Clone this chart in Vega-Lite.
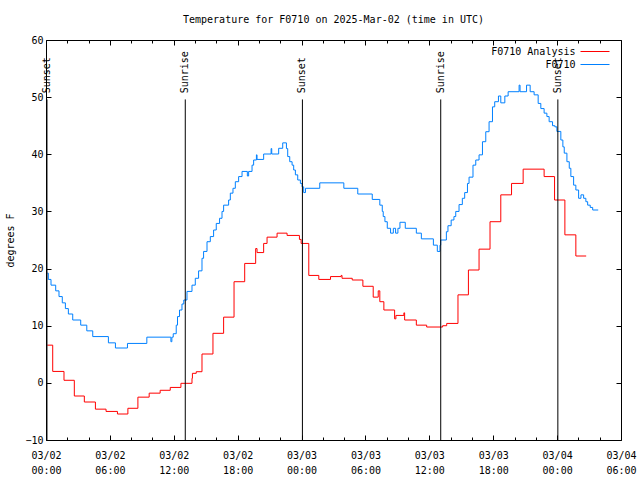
{
  "$schema": "https://vega.github.io/schema/vega-lite/v6.json",
  "width": 575,
  "height": 400,
  "autosize": "none",
  "padding": {"left": 46, "top": 40, "right": 19, "bottom": 40},
  "background": "white",
  "title": {"text": "Temperature for F0710 on 2025-Mar-02 (time in UTC)", "font": "DejaVu Sans Mono", "fontSize": 10, "fontWeight": "normal", "color": "black", "anchor": "middle", "offset": 10},
  "config": {
    "font": "DejaVu Sans Mono",
    "view": {"stroke": "black", "strokeWidth": 1},
    "axis": {"labelFont": "DejaVu Sans Mono", "labelFontSize": 10, "labelColor": "black", "tickColor": "black", "domain": false, "grid": false, "titleFont": "DejaVu Sans Mono", "titleFontSize": 10, "titleFontWeight": "normal", "titleColor": "black"}
  },
  "datasets": {
    "temps": [
      {"h": 0.12, "t": 6.6, "s": "F0710 Analysis"},
      {"h": 0.63, "t": 2.0, "s": "F0710 Analysis"},
      {"h": 1.69, "t": 0.45, "s": "F0710 Analysis"},
      {"h": 2.66, "t": -2.3, "s": "F0710 Analysis"},
      {"h": 3.6, "t": -3.35, "s": "F0710 Analysis"},
      {"h": 4.64, "t": -4.6, "s": "F0710 Analysis"},
      {"h": 5.64, "t": -5.0, "s": "F0710 Analysis"},
      {"h": 6.71, "t": -5.45, "s": "F0710 Analysis"},
      {"h": 7.69, "t": -4.45, "s": "F0710 Analysis"},
      {"h": 8.63, "t": -2.5, "s": "F0710 Analysis"},
      {"h": 9.69, "t": -1.8, "s": "F0710 Analysis"},
      {"h": 10.72, "t": -1.3, "s": "F0710 Analysis"},
      {"h": 11.67, "t": -0.8, "s": "F0710 Analysis"},
      {"h": 12.67, "t": -0.08, "s": "F0710 Analysis"},
      {"h": 13.71, "t": 0.8, "s": "F0710 Analysis"},
      {"h": 13.75, "t": 1.67, "s": "F0710 Analysis"},
      {"h": 14.11, "t": 1.95, "s": "F0710 Analysis"},
      {"h": 14.65, "t": 5.05, "s": "F0710 Analysis"},
      {"h": 15.68, "t": 8.67, "s": "F0710 Analysis"},
      {"h": 16.68, "t": 11.5, "s": "F0710 Analysis"},
      {"h": 17.66, "t": 17.7, "s": "F0710 Analysis"},
      {"h": 18.66, "t": 20.9, "s": "F0710 Analysis"},
      {"h": 19.69, "t": 23.5, "s": "F0710 Analysis"},
      {"h": 19.82, "t": 22.8, "s": "F0710 Analysis"},
      {"h": 20.44, "t": 24.4, "s": "F0710 Analysis"},
      {"h": 20.76, "t": 25.5, "s": "F0710 Analysis"},
      {"h": 21.7, "t": 26.2, "s": "F0710 Analysis"},
      {"h": 22.64, "t": 25.8, "s": "F0710 Analysis"},
      {"h": 23.8, "t": 25.1, "s": "F0710 Analysis"},
      {"h": 23.96, "t": 24.4, "s": "F0710 Analysis"},
      {"h": 24.68, "t": 18.8, "s": "F0710 Analysis"},
      {"h": 25.62, "t": 18.1, "s": "F0710 Analysis"},
      {"h": 26.72, "t": 18.6, "s": "F0710 Analysis"},
      {"h": 27.72, "t": 18.8, "s": "F0710 Analysis"},
      {"h": 27.8, "t": 18.3, "s": "F0710 Analysis"},
      {"h": 28.76, "t": 18.0, "s": "F0710 Analysis"},
      {"h": 29.76, "t": 16.9, "s": "F0710 Analysis"},
      {"h": 30.73, "t": 15.0, "s": "F0710 Analysis"},
      {"h": 31.2, "t": 16.1, "s": "F0710 Analysis"},
      {"h": 31.35, "t": 14.2, "s": "F0710 Analysis"},
      {"h": 31.73, "t": 12.75, "s": "F0710 Analysis"},
      {"h": 32.74, "t": 11.2, "s": "F0710 Analysis"},
      {"h": 32.86, "t": 11.8, "s": "F0710 Analysis"},
      {"h": 33.61, "t": 12.25, "s": "F0710 Analysis"},
      {"h": 33.68, "t": 11.0, "s": "F0710 Analysis"},
      {"h": 34.78, "t": 10.1, "s": "F0710 Analysis"},
      {"h": 35.75, "t": 9.77, "s": "F0710 Analysis"},
      {"h": 37.25, "t": 10.0, "s": "F0710 Analysis"},
      {"h": 37.63, "t": 10.4, "s": "F0710 Analysis"},
      {"h": 38.69, "t": 15.4, "s": "F0710 Analysis"},
      {"h": 39.67, "t": 19.75, "s": "F0710 Analysis"},
      {"h": 40.67, "t": 23.4, "s": "F0710 Analysis"},
      {"h": 41.7, "t": 28.2, "s": "F0710 Analysis"},
      {"h": 42.71, "t": 32.9, "s": "F0710 Analysis"},
      {"h": 43.72, "t": 34.9, "s": "F0710 Analysis"},
      {"h": 44.81, "t": 37.4, "s": "F0710 Analysis"},
      {"h": 46.78, "t": 36.1, "s": "F0710 Analysis"},
      {"h": 47.76, "t": 32.0, "s": "F0710 Analysis"},
      {"h": 48.73, "t": 25.9, "s": "F0710 Analysis"},
      {"h": 49.76, "t": 22.2, "s": "F0710 Analysis"},
      {"h": 50.73, "t": 22.2, "s": "F0710 Analysis"},
      {"h": 0.12, "t": 19.2, "s": "F0710"},
      {"h": 0.22, "t": 18.1, "s": "F0710"},
      {"h": 0.47, "t": 17.1, "s": "F0710"},
      {"h": 0.91, "t": 16.1, "s": "F0710"},
      {"h": 1.22, "t": 15.1, "s": "F0710"},
      {"h": 1.53, "t": 14.0, "s": "F0710"},
      {"h": 1.82, "t": 13.0, "s": "F0710"},
      {"h": 2.1, "t": 12.05, "s": "F0710"},
      {"h": 2.51, "t": 11.0, "s": "F0710"},
      {"h": 3.26, "t": 10.1, "s": "F0710"},
      {"h": 3.83, "t": 9.1, "s": "F0710"},
      {"h": 4.39, "t": 8.1, "s": "F0710"},
      {"h": 5.86, "t": 7.0, "s": "F0710"},
      {"h": 6.52, "t": 6.1, "s": "F0710"},
      {"h": 7.65, "t": 6.9, "s": "F0710"},
      {"h": 9.47, "t": 8.0, "s": "F0710"},
      {"h": 11.73, "t": 7.2, "s": "F0710"},
      {"h": 11.82, "t": 8.0, "s": "F0710"},
      {"h": 11.95, "t": 8.6, "s": "F0710"},
      {"h": 12.23, "t": 10.1, "s": "F0710"},
      {"h": 12.35, "t": 11.6, "s": "F0710"},
      {"h": 12.54, "t": 12.75, "s": "F0710"},
      {"h": 12.77, "t": 13.8, "s": "F0710"},
      {"h": 12.94, "t": 14.5, "s": "F0710"},
      {"h": 13.24, "t": 16.0, "s": "F0710"},
      {"h": 13.71, "t": 17.1, "s": "F0710"},
      {"h": 14.02, "t": 18.3, "s": "F0710"},
      {"h": 14.33, "t": 19.6, "s": "F0710"},
      {"h": 14.65, "t": 21.8, "s": "F0710"},
      {"h": 14.8, "t": 23.0, "s": "F0710"},
      {"h": 15.12, "t": 24.7, "s": "F0710"},
      {"h": 15.43, "t": 25.6, "s": "F0710"},
      {"h": 15.74, "t": 26.75, "s": "F0710"},
      {"h": 15.99, "t": 27.9, "s": "F0710"},
      {"h": 16.3, "t": 28.8, "s": "F0710"},
      {"h": 16.53, "t": 30.0, "s": "F0710"},
      {"h": 16.68, "t": 31.1, "s": "F0710"},
      {"h": 17.15, "t": 32.0, "s": "F0710"},
      {"h": 17.31, "t": 33.2, "s": "F0710"},
      {"h": 17.56, "t": 34.05, "s": "F0710"},
      {"h": 17.78, "t": 35.2, "s": "F0710"},
      {"h": 18.09, "t": 36.1, "s": "F0710"},
      {"h": 18.41, "t": 37.0, "s": "F0710"},
      {"h": 18.91, "t": 36.2, "s": "F0710"},
      {"h": 19.03, "t": 37.0, "s": "F0710"},
      {"h": 19.35, "t": 38.1, "s": "F0710"},
      {"h": 19.5, "t": 39.0, "s": "F0710"},
      {"h": 19.76, "t": 39.9, "s": "F0710"},
      {"h": 19.82, "t": 39.1, "s": "F0710"},
      {"h": 20.44, "t": 40.05, "s": "F0710"},
      {"h": 21.14, "t": 41.0, "s": "F0710"},
      {"h": 21.2, "t": 40.05, "s": "F0710"},
      {"h": 21.85, "t": 41.05, "s": "F0710"},
      {"h": 22.23, "t": 42.0, "s": "F0710"},
      {"h": 22.58, "t": 41.0, "s": "F0710"},
      {"h": 22.7, "t": 39.6, "s": "F0710"},
      {"h": 22.89, "t": 38.7, "s": "F0710"},
      {"h": 23.11, "t": 38.1, "s": "F0710"},
      {"h": 23.26, "t": 37.25, "s": "F0710"},
      {"h": 23.42, "t": 36.4, "s": "F0710"},
      {"h": 23.64, "t": 35.5, "s": "F0710"},
      {"h": 23.89, "t": 34.9, "s": "F0710"},
      {"h": 24.05, "t": 34.3, "s": "F0710"},
      {"h": 24.2, "t": 33.3, "s": "F0710"},
      {"h": 24.37, "t": 34.05, "s": "F0710"},
      {"h": 25.71, "t": 35.0, "s": "F0710"},
      {"h": 27.97, "t": 34.05, "s": "F0710"},
      {"h": 29.28, "t": 33.05, "s": "F0710"},
      {"h": 30.64, "t": 32.1, "s": "F0710"},
      {"h": 31.35, "t": 31.1, "s": "F0710"},
      {"h": 31.58, "t": 30.0, "s": "F0710"},
      {"h": 31.67, "t": 29.1, "s": "F0710"},
      {"h": 31.83, "t": 28.2, "s": "F0710"},
      {"h": 32.05, "t": 27.05, "s": "F0710"},
      {"h": 32.36, "t": 26.2, "s": "F0710"},
      {"h": 32.62, "t": 27.05, "s": "F0710"},
      {"h": 32.83, "t": 26.2, "s": "F0710"},
      {"h": 33.05, "t": 27.05, "s": "F0710"},
      {"h": 33.24, "t": 28.1, "s": "F0710"},
      {"h": 33.74, "t": 27.05, "s": "F0710"},
      {"h": 34.78, "t": 26.2, "s": "F0710"},
      {"h": 35.25, "t": 25.2, "s": "F0710"},
      {"h": 36.38, "t": 24.1, "s": "F0710"},
      {"h": 36.75, "t": 23.0, "s": "F0710"},
      {"h": 37.0, "t": 24.1, "s": "F0710"},
      {"h": 37.07, "t": 25.0, "s": "F0710"},
      {"h": 37.6, "t": 26.45, "s": "F0710"},
      {"h": 37.75, "t": 27.5, "s": "F0710"},
      {"h": 38.05, "t": 28.5, "s": "F0710"},
      {"h": 38.31, "t": 29.1, "s": "F0710"},
      {"h": 38.48, "t": 30.0, "s": "F0710"},
      {"h": 38.79, "t": 31.2, "s": "F0710"},
      {"h": 39.1, "t": 32.3, "s": "F0710"},
      {"h": 39.32, "t": 33.3, "s": "F0710"},
      {"h": 39.58, "t": 34.9, "s": "F0710"},
      {"h": 39.73, "t": 36.0, "s": "F0710"},
      {"h": 40.1, "t": 38.1, "s": "F0710"},
      {"h": 40.36, "t": 39.0, "s": "F0710"},
      {"h": 40.67, "t": 39.9, "s": "F0710"},
      {"h": 40.99, "t": 42.2, "s": "F0710"},
      {"h": 41.3, "t": 43.95, "s": "F0710"},
      {"h": 41.61, "t": 45.7, "s": "F0710"},
      {"h": 41.93, "t": 48.3, "s": "F0710"},
      {"h": 42.14, "t": 49.2, "s": "F0710"},
      {"h": 42.49, "t": 50.2, "s": "F0710"},
      {"h": 42.71, "t": 49.0, "s": "F0710"},
      {"h": 43.09, "t": 50.2, "s": "F0710"},
      {"h": 43.4, "t": 50.95, "s": "F0710"},
      {"h": 44.43, "t": 52.1, "s": "F0710"},
      {"h": 44.52, "t": 50.95, "s": "F0710"},
      {"h": 45.13, "t": 52.1, "s": "F0710"},
      {"h": 45.47, "t": 50.95, "s": "F0710"},
      {"h": 45.84, "t": 50.4, "s": "F0710"},
      {"h": 46.22, "t": 48.9, "s": "F0710"},
      {"h": 46.47, "t": 48.0, "s": "F0710"},
      {"h": 46.78, "t": 47.2, "s": "F0710"},
      {"h": 47.04, "t": 46.6, "s": "F0710"},
      {"h": 47.25, "t": 45.7, "s": "F0710"},
      {"h": 47.57, "t": 45.0, "s": "F0710"},
      {"h": 47.79, "t": 44.8, "s": "F0710"},
      {"h": 47.98, "t": 44.0, "s": "F0710"},
      {"h": 48.35, "t": 42.5, "s": "F0710"},
      {"h": 48.54, "t": 41.3, "s": "F0710"},
      {"h": 48.67, "t": 40.2, "s": "F0710"},
      {"h": 48.92, "t": 38.7, "s": "F0710"},
      {"h": 49.14, "t": 37.55, "s": "F0710"},
      {"h": 49.29, "t": 36.1, "s": "F0710"},
      {"h": 49.55, "t": 34.6, "s": "F0710"},
      {"h": 49.76, "t": 33.75, "s": "F0710"},
      {"h": 50.02, "t": 32.3, "s": "F0710"},
      {"h": 50.24, "t": 32.9, "s": "F0710"},
      {"h": 50.49, "t": 32.3, "s": "F0710"},
      {"h": 50.7, "t": 31.7, "s": "F0710"},
      {"h": 50.87, "t": 31.1, "s": "F0710"},
      {"h": 51.11, "t": 30.7, "s": "F0710"},
      {"h": 51.34, "t": 30.25, "s": "F0710"},
      {"h": 51.86, "t": 30.25, "s": "F0710"}
    ],
    "events": [
      {"h": 0.09, "label": "Sunset"},
      {"h": 13.08, "label": "Sunrise"},
      {"h": 24.08, "label": "Sunset"},
      {"h": 37.07, "label": "Sunrise"},
      {"h": 48.07, "label": "Sunset"}
    ]
  },
  "resolve": {"axis": {"x": "independent", "y": "independent"}},
  "layer": [
    {
      "data": {"name": "temps"},
      "mark": {"type": "line", "interpolate": "step-after", "strokeWidth": 1},
      "encoding": {
        "x": {"field": "h", "type": "quantitative", "scale": {"domain": [0, 54], "nice": false, "zero": false},
          "axis": {"orient": "bottom", "title": null, "values": [0,2,4,6,8,10,12,14,16,18,20,22,24,26,28,30,32,34,36,38,40,42,44,46,48,50,52,54],
            "tickSize": {"condition": {"test": "datum.value % 6 === 0", "value": -5}, "value": -3},
            "labelExpr": "datum.value % 6 === 0 ? ['03/0' + (2 + floor(datum.value / 24)), (datum.value % 24 < 10 ? '0' : '') + (datum.value % 24) + ':00'] : ''",
            "labelOverlap": false, "labelFlush": false, "labelLineHeight": 15, "labelPadding": 15}},
        "y": {"field": "t", "type": "quantitative", "scale": {"domain": [-10, 60], "nice": false, "zero": false},
          "axis": {"orient": "left", "title": "degrees F", "values": [-10,0,10,20,30,40,50,60], "tickSize": -5, "labelPadding": 8, "titleX": -36, "titleY": 200, "titleBaseline": "middle", "titleAngle": 270}},
        "color": {"field": "s", "type": "nominal", "scale": {"domain": ["F0710 Analysis", "F0710"], "range": ["#ff0000", "#0080ff"]},
          "legend": {"orient": "none", "legendX": 544, "legendY": 6.5, "title": null, "symbolType": "M-7.25,0H7.25", "symbolSize": 16, "symbolStrokeWidth": 1, "labelAlign": "right", "labelOffset": -24.5, "labelFont": "DejaVu Sans Mono", "labelFontSize": 10, "labelColor": "black", "rowPadding": 3, "padding": 0}}
      }
    },
    {
      "data": {"name": "events"},
      "mark": {"type": "rule", "color": "black", "strokeWidth": 1},
      "encoding": {
        "x": {"field": "h", "type": "quantitative", "scale": {"domain": [0, 54], "nice": false, "zero": false},
          "axis": {"orient": "top", "title": null, "labels": false, "values": [0,2,4,6,8,10,12,14,16,18,20,22,24,26,28,30,32,34,36,38,40,42,44,46,48,50,52,54],
            "tickSize": {"condition": {"test": "datum.value % 6 === 0", "value": -5}, "value": -3}}},
        "y": {"datum": 49.6, "type": "quantitative", "scale": {"domain": [-10, 60], "nice": false, "zero": false},
          "axis": {"orient": "right", "title": null, "labels": false, "values": [-10,0,10,20,30,40,50,60], "tickSize": -5}},
        "y2": {"datum": -10}
      }
    },
    {
      "data": {"name": "events"},
      "mark": {"type": "text", "angle": 270, "align": "left", "baseline": "middle", "dx": 1, "font": "DejaVu Sans Mono", "fontSize": 10, "color": "black"},
      "encoding": {
        "x": {"field": "h", "type": "quantitative", "scale": {"domain": [0, 54], "nice": false, "zero": false}, "axis": null},
        "y": {"datum": 50.5, "type": "quantitative", "scale": {"domain": [-10, 60], "nice": false, "zero": false}, "axis": null},
        "text": {"field": "label"}
      }
    }
  ]
}
